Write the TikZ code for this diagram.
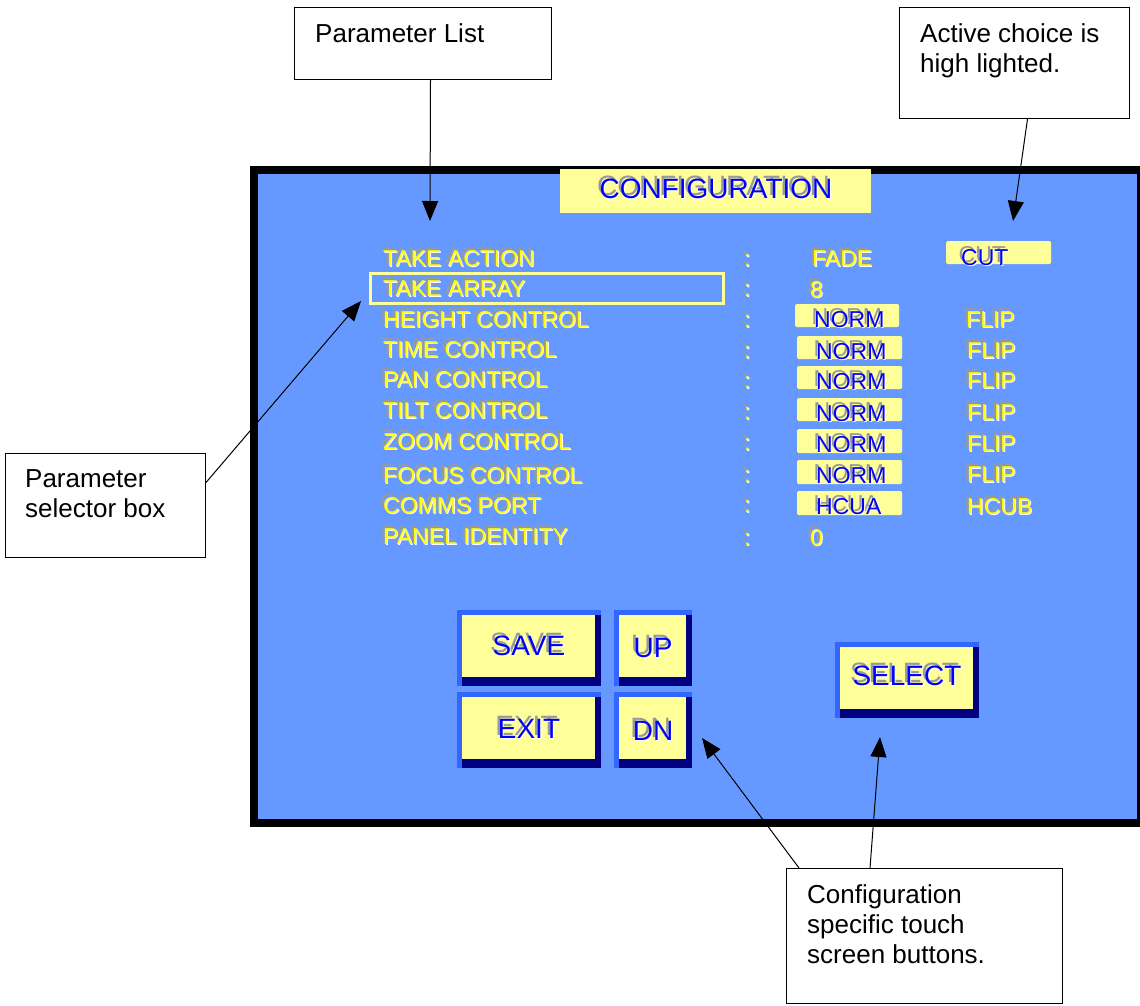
\documentclass[tikz,border=0pt]{standalone}
\usepackage{fontspec}
\setmainfont{Liberation Sans}
\usetikzlibrary{arrows.meta}
\definecolor{scrblue}{HTML}{6699FF}
\definecolor{lyel}{HTML}{FFFF99}
\definecolor{bevlight}{HTML}{3366FF}
\definecolor{bevdark}{HTML}{000080}
\definecolor{txtblue}{HTML}{0000FF}
\definecolor{txtyel}{HTML}{FFFF00}
\definecolor{shgray}{HTML}{999999}
% shadowed text: [style]{name}{position}{colour}{text}
\newcommand\shtext[5][]{%
  \node[#1,text=shgray,xshift=-2.5pt,yshift=2.5pt] at (#3) {#5};
  \node[#1,text=white,xshift=1pt,yshift=-1pt] at (#3) {#5};
  \node[#1,text=#4] (#2) at (#3) {#5};}
% touch button: {name}{x1}{y1}{x2}{y2}{baseline}{text}
\newcommand\tbutton[7]{%
  \fill[bevlight] (#2,#3) rectangle (#4,#5);
  \fill[bevdark] (#2+5,#3+5) rectangle (#4,#5);
  \fill[lyel] (#2+5,#3+5) rectangle (#4-6,#5-9);
  \shtext[btxt]{#1}{{(#2+#4)/2},#6}{txtblue}{#7}}
% value box: {name}{x1}{y1}{x2}{y2}
\newcommand\valbox[5]{%
  \fill[lyel, rounded corners=1.5pt] (#2,#3) rectangle (#4,#5);
  \coordinate (#1) at ({(#2+#4)/2},{(#3+#5)/2});}
\tikzset{
  lbl/.style={anchor=base west, inner sep=0pt, font=\fontsize{23}{27}\selectfont},
  btxt/.style={anchor=base, inner sep=0pt, font=\fontsize{28}{32}\selectfont},
  callout/.style={draw=black, line width=1pt, fill=white, anchor=north west, inner sep=0pt},
  ctext/.style={anchor=base west, inner sep=0pt, font=\fontsize{26}{30}\selectfont},
  arr/.style={-{Triangle[width=16pt,length=20pt]}, line width=1pt},
}
\begin{document}
\begin{tikzpicture}[x=1pt,y=-1pt]
\useasboundingbox (0,0) rectangle (1140,1005);
\fill[white] (0,0) rectangle (1140,1005);

% screen frame
\fill[black] (250,166) rectangle (1146,827);
\fill[scrblue] (258,174) rectangle (1137,819);

% title
\node[fill=lyel, minimum width=311pt, minimum height=44pt, anchor=north west, inner sep=0pt] (titlebox) at (560,169) {};
\shtext[btxt]{title}{716,198}{txtblue}{CONFIGURATION}

% selector box
\node[draw=lyel, line width=2.5pt, minimum width=353pt, minimum height=30pt, anchor=north west, inner sep=0pt] (selbox) at (369,272) {};

% value boxes
\valbox{bcut}{946}{241}{1051}{264}
\valbox{b1}{795}{304}{899}{327}
\valbox{b2}{797}{336}{902}{359}
\valbox{b3}{797}{366}{902}{389}
\valbox{b4}{797}{398}{902}{421}
\valbox{b5}{797}{429}{902}{453}
\valbox{b6}{797}{460}{902}{484}
\valbox{b7}{797}{491}{902}{515}

% parameter list
\shtext[lbl]{p1}{383,266}{txtyel}{TAKE ACTION}
\shtext[lbl]{p2}{383,296}{txtyel}{TAKE ARRAY}
\shtext[lbl]{p3}{383,327}{txtyel}{HEIGHT CONTROL}
\shtext[lbl]{p4}{383,357}{txtyel}{TIME CONTROL}
\shtext[lbl]{p5}{383,387}{txtyel}{PAN CONTROL}
\shtext[lbl]{p6}{383,418}{txtyel}{TILT CONTROL}
\shtext[lbl]{p7}{383,449}{txtyel}{ZOOM CONTROL}
\shtext[lbl]{p8}{383,483}{txtyel}{FOCUS CONTROL}
\shtext[lbl]{p9}{383,513}{txtyel}{COMMS PORT}
\shtext[lbl]{p10}{383,544}{txtyel}{PANEL IDENTITY}

% colons
\shtext[lbl]{c1}{744,266}{txtyel}{:}
\shtext[lbl]{c2}{744,296}{txtyel}{:}
\shtext[lbl]{c3}{744,327}{txtyel}{:}
\shtext[lbl]{c4}{744,358}{txtyel}{:}
\shtext[lbl]{c5}{744,388}{txtyel}{:}
\shtext[lbl]{c6}{744,419}{txtyel}{:}
\shtext[lbl]{c7}{744,450}{txtyel}{:}
\shtext[lbl]{c8}{744,482}{txtyel}{:}
\shtext[lbl]{c9}{744,512}{txtyel}{:}
\shtext[lbl]{c10}{744,545}{txtyel}{:}

% values
\shtext[lbl]{v1a}{812,266}{txtyel}{FADE}
\shtext[lbl]{v1b}{961,265}{txtblue}{CUT}
\shtext[lbl]{v2a}{810,297}{txtyel}{8}
\shtext[lbl]{v3a}{814,327}{txtblue}{NORM}
\shtext[lbl]{v3b}{966,327}{txtyel}{FLIP}
\shtext[lbl]{v4a}{816,359}{txtblue}{NORM}
\shtext[lbl]{v4b}{967,358}{txtyel}{FLIP}
\shtext[lbl]{v5a}{816,389}{txtblue}{NORM}
\shtext[lbl]{v5b}{967,388}{txtyel}{FLIP}
\shtext[lbl]{v6a}{816,421}{txtblue}{NORM}
\shtext[lbl]{v6b}{967,420}{txtyel}{FLIP}
\shtext[lbl]{v7a}{816,452}{txtblue}{NORM}
\shtext[lbl]{v7b}{967,451}{txtyel}{FLIP}
\shtext[lbl]{v8a}{816,483}{txtblue}{NORM}
\shtext[lbl]{v8b}{967,482}{txtyel}{FLIP}
\shtext[lbl]{v9a}{816,514}{txtblue}{HCUA}
\shtext[lbl]{v9b}{967,514}{txtyel}{HCUB}
\shtext[lbl]{v10a}{810,545}{txtyel}{0}

% touch buttons
\tbutton{save}{457}{610}{601}{686}{655}{SAVE}
\tbutton{up}{614}{610}{692}{686}{657}{UP}
\tbutton{exit}{457}{692}{601}{768}{738}{EXIT}
\tbutton{dn}{614}{692}{692}{768}{740}{DN}
\tbutton{select}{835}{642}{979}{718}{685}{SELECT}

% callouts
\node[callout, minimum width=257pt, minimum height=72pt] (plist) at (294,7) {};
\node[ctext] (plistt) at (315,42) {Parameter List};

\node[callout, minimum width=230pt, minimum height=111pt] (actc) at (899,7) {};
\node[ctext] (actct1) at (920,42) {Active choice is};
\node[ctext] (actct2) at (920,72) {high lighted.};

\node[callout, minimum width=200pt, minimum height=104pt] (psel) at (5,453) {};
\node[ctext] (pselt1) at (25,487) {Parameter};
\node[ctext] (pselt2) at (25,517) {selector box};

\node[callout, minimum width=276pt, minimum height=135pt] (cfg) at (786,868) {};
\node[ctext] (cfgt1) at (807,903) {Configuration};
\node[ctext] (cfgt2) at (807,933) {specific touch};
\node[ctext] (cfgt3) at (807,963) {screen buttons.};

% arrow targets
\coordinate (tipA) at (430,221);
\coordinate (tipB) at (1013,221);
\coordinate (tipC) at (361,301);
\coordinate (tipD) at (702,738);
\coordinate (tipE) at (880,737);

\draw[arr] ([xshift=7.5pt]plist.south) -- (tipA);
\draw[arr] ([xshift=13pt]actc.south) -- (tipB);
\draw[arr] ([yshift=23pt]psel.east) -- (tipC);
\draw[arr] ([xshift=13pt]cfg.north west) -- (tipD);
\draw[arr] ([xshift=84pt]cfg.north west) -- (tipE);
\end{tikzpicture}
\end{document}
